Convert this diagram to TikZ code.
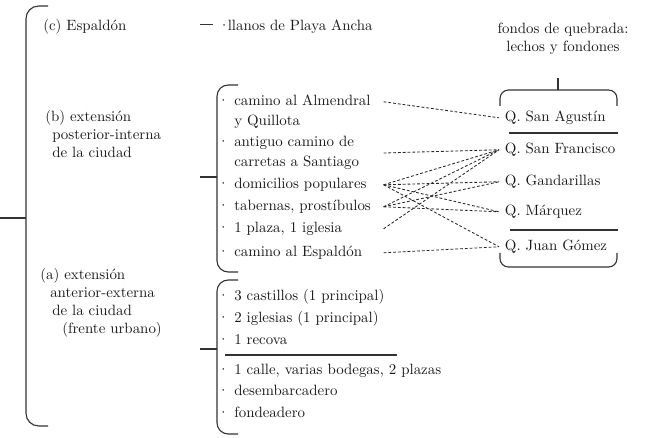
\documentclass[tikz,border=0pt]{standalone}
\usepackage{fontspec}
\begin{document}
\begin{tikzpicture}[x=0.025cm, y=-0.025cm]
  \tikzset{
    brace/.style={draw=black!80, line width=0.8pt, rounded corners=8pt},
    sbrace/.style={brace, rounded corners=6pt},
    tick/.style={draw=black!80, line width=0.8pt},
    txt/.style={anchor=base west, inner sep=0pt, text=black!90, align=left, font=\fontsize{10.6}{12.8}\selectfont},
    line1/.style={text height=0.75em, text depth=0.15em},
    bitem/.style={txt, text width=3.725cm, font=\fontsize{10.6}{14.2}\selectfont},
    qname/.style={txt, line1, inner xsep=4pt},
    link/.style={draw=black!85, line width=0.6pt, dash pattern=on 2pt off 1.4pt}
  }
  \useasboundingbox (0,0) rectangle (650,438);

  % Outer brace
  \draw[brace, rounded corners=9pt] (48,6) -| (26,426) -- (48,426);
  \draw[tick] (0,218) -- (26,218);

  % (c) Espaldon
  \node[txt] (espc) at (43,31) {(c) Espaldón};
  \node[txt, line1] (llanos) at (218,31) {·\kern-1.5pt llanos de Playa Ancha};
  \draw[tick] (llanos.west) ++(-5,-2) -- ++(-13,0);

  % (b) posterior-interna
  \node[txt] (extb) at (45,158) {(b) extensión\\\hspace*{0.175cm}posterior-interna\\\hspace*{0.175cm}de la ciudad};
  \draw[tick] (200,177) -- (217,177);
  \draw[brace] (238,85) -| (217,272) -- (238,272);

  \node[bitem, line1] (almendral) at (234,106) {\llap{·\ }camino al Almendral};
  \node[txt, font=\fontsize{10.6}{14.2}\selectfont] (quillota) at (234,126) {y Quillota};
  \node[bitem, anchor=west] (carretas) at (234,153) {\llap{·\ }antiguo camino de\\carretas a Santiago};
  \node[bitem, line1] (domicilios) at (234,189) {\llap{·\ }domicilios populares};
  \node[bitem, line1] (tabernas) at (234,211) {\llap{·\ }tabernas, prostíbulos};
  \node[bitem, line1] (plaza) at (234,233) {\llap{·\ }1 plaza, 1 iglesia};
  \node[bitem, line1] (espaldon) at (234,257) {\llap{·\ }camino al Espaldón};

  % (a) anterior-externa
  \node[txt] (exta) at (40,333) {(a) extensión\\\hspace*{0.25cm}anterior-externa\\\hspace*{0.3cm}de la ciudad\\\hspace*{0.55cm}(frente urbano)};
  \draw[tick] (200,349) -- (217,349);
  \draw[brace] (238,280) -| (217,434) -- (238,434);

  \node[txt] (castillos) at (234,301) {\llap{·\ }3 castillos (1 principal)};
  \node[txt] (iglesias) at (234,323) {\llap{·\ }2 iglesias (1 principal)};
  \node[txt] (recova) at (234,345) {\llap{·\ }1 recova};
  \draw[tick] (225,355) -- (397,355);
  \node[txt] (calle) at (234,374) {\llap{·\ }1 calle, varias bodegas, 2 plazas};
  \node[txt] (desemb) at (234,395) {\llap{·\ }desembarcadero};
  \node[txt] (fondeadero) at (234,417) {\llap{·\ }fondeadero};

  % Quebradas
  \node[txt, anchor=base, align=center] (heading) at (563,52) {fondos de quebrada:\\lechos y fondones};
  \coordinate (qtop) at (558,90);
  \draw[tick] (qtop) -- ++(0,-12);
  \draw[sbrace] (500,106) |- (617,90) -- (617,106);

  \node[qname] (agustin) at (499,122) {Q. San Agustín};
  \draw[tick] (509,133) -- (618,133);
  \node[qname] (francisco) at (499,154) {Q. San Francisco};
  \node[qname] (gandarillas) at (499,186) {Q. Gandarillas};
  \node[qname] (marquez) at (499,216) {Q. Márquez};
  \draw[tick] (510,230) -- (618,230);
  \node[qname] (gomez) at (499,251) {Q. Juan Gómez};
  \draw[sbrace] (500,253) |- (617,267) -- (617,253);

  % Links
  \draw[link] (almendral.east) -- (agustin.west);
  \draw[link] (carretas.east) -- (francisco.west);
  \foreach \q in {francisco, gandarillas, marquez, gomez}
    \draw[link] (domicilios.east) -- (\q.west);
  \foreach \q in {francisco, gandarillas, marquez}
    \draw[link] (tabernas.east) -- (\q.west);
  \draw[link] (plaza.east) -- (francisco.west);
  \draw[link] (espaldon.east) -- (gomez.west);
\end{tikzpicture}
\end{document}
